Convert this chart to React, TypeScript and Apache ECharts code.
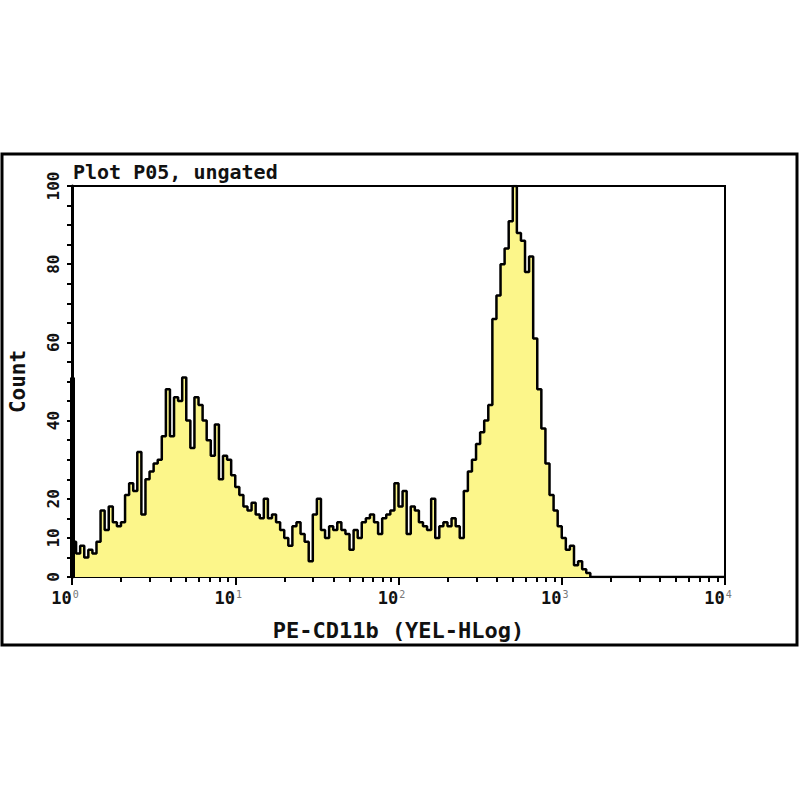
import React, { useEffect, useRef } from "react";
import * as echarts from "echarts";

// Histogram: 40 channels per decade, 10^0 .. 10^4 (160 channels)
const channelsPerDecade = 40;
const counts: number[] = [
  9, 6, 8, 5, 7, 6, 9, 17, 12, 18,
  14, 13, 14, 21, 24, 22, 32, 16, 25, 27,
  29, 30, 36, 48, 36, 46, 45, 51, 40, 33,
  46, 44, 40, 35, 31, 39, 25, 31, 30, 26,
  23, 21, 18, 17, 19, 16, 15, 20, 15, 16,
  14, 12, 10, 8, 13, 14, 11, 9, 4, 16,
  20, 12, 10, 13, 12, 14, 12, 11, 7, 12,
  10, 14, 15, 16, 14, 11, 15, 16, 17, 24,
  18, 22, 11, 18, 17, 14, 13, 12, 20, 10,
  13, 14, 13, 15, 13, 10, 22, 27, 30, 34,
  37, 40, 44, 66, 72, 80, 84, 91, 100, 88,
  86, 78, 82, 61, 48, 38, 29, 21, 17, 13,
  10, 7, 8, 3, 4, 2, 1, 0, 0, 0,
  0, 0, 0, 0, 0, 0, 0, 0, 0, 0,
  0, 0, 0, 0, 0, 0, 0, 0, 0, 0,
  0, 0, 0, 0, 0, 0, 0, 0, 0, 0,
];
const underflowCount = 51; // off-scale-low channel spike at 10^0

const yTicks = [0, 10, 20, 40, 60, 80, 100];
const titleText = "Plot P05, ungated";
const xName = "PE-CD11b (YEL-HLog)";
const yName = "Count";

const mono = "DejaVu Sans Mono";

export default function App() {
  const ref = useRef<HTMLDivElement>(null);
  useEffect(() => {
    if (!ref.current) return;
    const chart = echarts.init(ref.current, null, { renderer: "svg" });

    const data: [number, number][] = counts.map((c, i) => [i / channelsPerDecade, c]);
    data.push([counts.length / channelsPerDecade, 0]);

    const minorTicks: number[] = [];
    for (let d = 0; d < 4; d++) {
      for (let k = 2; k <= 9; k++) minorTicks.push(d + Math.log10(k));
    }

    chart.setOption({
      animation: false,
      backgroundColor: "#fff",
      title: {
        text: titleText,
        left: 68,
        top: 157,
        textStyle: { fontFamily: mono, fontSize: 20, fontWeight: "bold", color: "#111" },
      },
      graphic: [
        {
          type: "rect",
          shape: { x: 2, y: 154, width: 795, height: 491 },
          style: { fill: "none", stroke: "#000", lineWidth: 3 },
          silent: true,
        },
      ],
      grid: {
        left: 72,
        right: 75,
        top: 186,
        bottom: 223,
        containLabel: false,
        outerBoundsMode: "none",
        show: true,
        borderColor: "#000",
        borderWidth: 2,
        backgroundColor: "#fff",
      },
      xAxis: [
        {
          type: "value",
          min: 0,
          max: 4,
          interval: 1,
          position: "bottom",
          axisLine: { show: true, lineStyle: { color: "#000", width: 2 } },
          axisTick: { show: true, length: 8, lineStyle: { color: "#000", width: 2 } },
          splitLine: { show: false },
          axisLabel: {
            margin: 12,
            padding: [0, 14, 0, 0],
            formatter: (v: number) => `{b|10}{s|${v}}`,
            rich: {
              b: { fontFamily: mono, fontSize: 17, fontWeight: "bold", color: "#111" },
              s: { fontFamily: mono, fontSize: 10, color: "#777", verticalAlign: "top", padding: [0, 0, 8, 1] },
            },
          },
          name: xName,
          nameLocation: "middle",
          nameGap: 42,
          nameTextStyle: { fontFamily: mono, fontSize: 22, fontWeight: "bold", color: "#111" },
        },
        {
          type: "value",
          min: 0,
          max: 4,
          interval: 1,
          position: "bottom",
          axisLine: { show: false },
          axisTick: { show: true, length: 5, customValues: minorTicks, lineStyle: { color: "#000", width: 2 } },
          axisLabel: { show: false },
          splitLine: { show: false },
        },
      ],
      yAxis: {
        type: "value",
        min: 0,
        max: 100,
        interval: 5,
        axisLine: { show: true, lineStyle: { color: "#000", width: 3 } },
        axisTick: { show: true, length: 5, lineStyle: { color: "#000", width: 2 } },
        splitLine: { show: false },
        axisLabel: {
          customValues: yTicks,
          rotate: 90,
          margin: 11,
          fontFamily: mono,
          fontSize: 16,
          fontWeight: "bold",
          color: "#111",
        },
        name: yName,
        nameLocation: "middle",
        nameGap: 44,
        nameRotate: 90,
        nameTextStyle: { fontFamily: mono, fontSize: 21, fontWeight: "bold", color: "#111" },
      },
      series: [
        {
          type: "line",
          xAxisIndex: 0,
          step: "end",
          data,
          symbol: "none",
          lineStyle: { color: "#000", width: 2.5 },
          areaStyle: { color: "#fcf68a", opacity: 1 },
          markLine: {
            silent: true,
            symbol: "none",
            label: { show: false },
            lineStyle: { color: "#000", width: 5, type: "solid" },
            data: [[{ coord: [0, 0] }, { coord: [0, underflowCount] }]],
          },
        },
      ],
    });
    return () => chart.dispose();
  }, []);
  return (
    <div
      ref={ref}
      style={{ position: "fixed", left: 0, top: 0, width: 800, height: 800 }}
    />
  );
}
